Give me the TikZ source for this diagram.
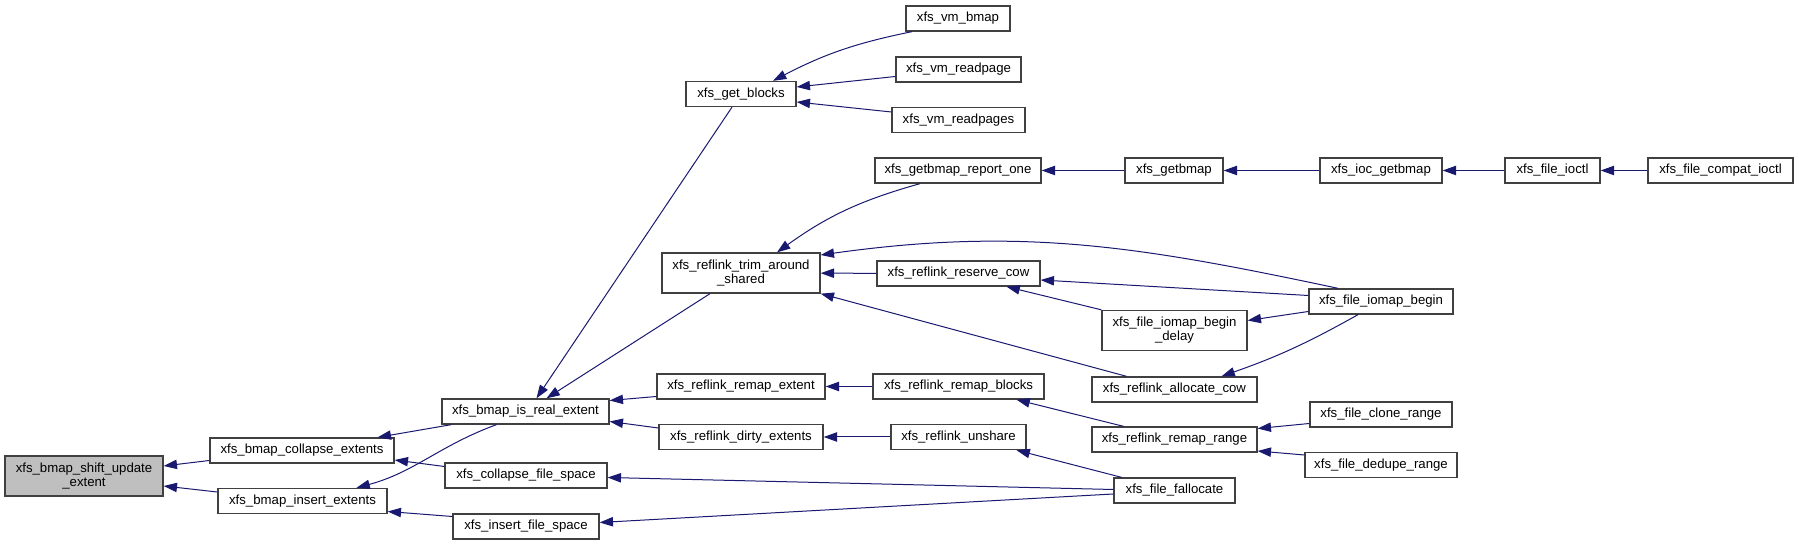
\documentclass[tikz,border=0pt]{standalone}
\usepackage{fontspec}
\setmainfont{Liberation Sans}
\usepackage{tikz}
\usetikzlibrary{
    arrows.meta,
    calc
}

\begin{document}
\begin{tikzpicture}[
    x=0.75pt,
    y=0.75pt,
    every node/.style={
        font=\fontsize{9.9pt}{10.5pt}\selectfont
    },
    fnbox/.style={
        rectangle,
        draw=black!75,
        line width=1pt,
        fill=white,
        inner sep=1pt,
        minimum height=18.75pt,
        align=center
    },
    focus/.style={
        fnbox,
        fill=black!25
    },
    call/.style={
        {Triangle[length=10pt,width=7pt]}-,
        line width=0.75pt,
        draw=navyblue
    }
]
\definecolor{navyblue}{HTML}{191970}

\useasboundingbox (0,0) rectangle (1799,545);

% ===========================================================
% LEFT: the function and its direct callers
% ===========================================================

\node[focus, minimum width=118.5pt, minimum height=30pt] (shift) at (84,69)
    {xfs\_bmap\_shift\_update\\\_extent};

\node[fnbox, minimum width=138pt] (collapse) at (302,94.5)
    {xfs\_bmap\_collapse\_extents};
\node[fnbox, minimum width=126.75pt] (insert) at (302.5,44)
    {xfs\_bmap\_insert\_extents};

\node[fnbox, minimum width=125.25pt] (isreal) at (525.5,133.5)
    {xfs\_bmap\_is\_real\_extent};
\node[fnbox, minimum width=121.5pt] (colfs) at (526,69.5)
    {xfs\_collapse\_file\_space};
\node[fnbox, minimum width=109.5pt] (insfs) at (526,18.5)
    {xfs\_insert\_file\_space};

% ===========================================================
% MIDDLE: callers of xfs_bmap_is_real_extent
% ===========================================================

\node[fnbox, minimum width=82.5pt] (getblocks) at (741,451)
    {xfs\_get\_blocks};
\node[fnbox, minimum width=118.5pt, minimum height=30pt] (trim) at (741,272)
    {xfs\_reflink\_trim\_around\\\_shared};
\node[fnbox, minimum width=126pt] (remapext) at (741,158.5)
    {xfs\_reflink\_remap\_extent};
\node[fnbox, minimum width=123pt] (dirty) at (741,108)
    {xfs\_reflink\_dirty\_extents};

\node[fnbox, minimum width=78pt] (vmbmap) at (958,526.5)
    {xfs\_vm\_bmap};
\node[fnbox, minimum width=93.75pt] (readpage) at (958.5,475.5)
    {xfs\_vm\_readpage};
\node[fnbox, minimum width=99.75pt] (readpages) at (958.5,425)
    {xfs\_vm\_readpages};
\node[fnbox, minimum width=124.5pt] (reportone) at (958,374.5)
    {xfs\_getbmap\_report\_one};
\node[fnbox, minimum width=122.25pt] (reserve) at (958.5,271.5)
    {xfs\_reflink\_reserve\_cow};
\node[fnbox, minimum width=128.25pt] (remapblk) at (958.5,158.5)
    {xfs\_reflink\_remap\_blocks};
\node[fnbox, minimum width=101.25pt] (unshare) at (958.5,108)
    {xfs\_reflink\_unshare};

% ===========================================================
% RIGHT: outer callers
% ===========================================================

\node[fnbox, minimum width=73.5pt] (getbmap) at (1174,374.5)
    {xfs\_getbmap};
\node[fnbox, minimum width=108.75pt, minimum height=30pt] (delay) at (1174.5,214.5)
    {xfs\_file\_iomap\_begin\\\_delay};
\node[fnbox, minimum width=123.75pt] (alloc) at (1174.5,155.5)
    {xfs\_reflink\_allocate\_cow};
\node[fnbox, minimum width=123.75pt] (range) at (1174.5,105.5)
    {xfs\_reflink\_remap\_range};
\node[fnbox, minimum width=90.75pt] (fallocate) at (1174.5,54.5)
    {xfs\_file\_fallocate};

\node[fnbox, minimum width=91.5pt] (iocget) at (1381,374.5)
    {xfs\_ioc\_getbmap};
\node[fnbox, minimum width=108pt] (iomapbegin) at (1381,243.5)
    {xfs\_file\_iomap\_begin};
\node[fnbox, minimum width=106.5pt] (clone) at (1381,130.5)
    {xfs\_file\_clone\_range};
\node[fnbox, minimum width=114pt] (dedupe) at (1381,80)
    {xfs\_file\_dedupe\_range};

\node[fnbox, minimum width=71.25pt] (fileioctl) at (1552.5,374.5)
    {xfs\_file\_ioctl};
\node[fnbox, minimum width=108.75pt] (compat) at (1720.5,374.5)
    {xfs\_file\_compat\_ioctl};

% ===========================================================
% Call edges (arrow tip at the called function)
% ===========================================================

% Into the focus node
\draw[call] ($(shift.east)+(0,10)$) -- ($(collapse.west)+(0,-10)$);
\draw[call] ($(shift.east)+(0,-10)$) -- ($(insert.west)+(0,9)$);

% Second column
\draw[call] ($(collapse.north east)+(-17,0)$) -- ($(isreal.south west)+(10,0)$);
\draw[call] ($(collapse.east)+(0,-9.5)$) -- ($(colfs.west)+(0,9)$);
\draw[call] ($(insert.north)+(54,0)$) to[out=15,in=200] ($(isreal.south)+(-29,0)$);
\draw[call] ($(insert.east)+(0,-10.5)$) -- ($(insfs.west)+(0,10)$);

% Callers of xfs_bmap_is_real_extent
\draw[call] ($(isreal.north)+(11,0)$) -- ($(getblocks.south)+(-9,0)$);
\draw[call] ($(isreal.north)+(21,0)$) -- ($(trim.south)+(-31,0)$);
\draw[call] ($(isreal.east)+(0,11)$) -- ($(remapext.west)+(0,-10)$);
\draw[call] ($(isreal.east)+(0,-10)$) -- ($(dirty.west)+(0,9)$);

% Callers of xfs_get_blocks
\draw[call] ($(getblocks.north)+(32,0)$) to[bend left=8] ($(vmbmap.south)+(-46,0)$);
\draw[call] ($(getblocks.east)+(0,7)$) -- ($(readpage.west)+(0,-7)$);
\draw[call] ($(getblocks.east)+(0,-8)$) -- ($(readpages.west)+(0,8)$);

% Callers of xfs_reflink_trim_around_shared
\draw[call] ($(trim.north)+(36,0)$) to[bend left=10] ($(reportone.south)+(-38,0)$);
\draw[call] ($(trim.east)+(0,18)$) to[out=8,in=168] ($(iomapbegin.north)+(-43,0)$);
\draw[call] (trim) -- (reserve);
\draw[call] (trim.south east) -- ($(alloc.north)+(-48,0)$);

% getbmap chain
\draw[call] (reportone) -- (getbmap);
\draw[call] (getbmap) -- (iocget);
\draw[call] (iocget) -- (fileioctl);
\draw[call] (fileioctl) -- (compat);

% Copy-on-write paths
\draw[call] ($(reserve.east)+(0,-6.5)$) -- ($(iomapbegin.west)+(0,6)$);
\draw[call] ($(reserve.south)+(48,0)$) -- (delay.north west);
\draw[call] ($(delay.east)+(0,10)$) -- ($(iomapbegin.west)+(0,-10)$);
\draw[call] ($(alloc.north)+(47,0)$) to[bend right=5] ($(iomapbegin.south)+(-23,0)$);

% Remap paths
\draw[call] (remapext) -- (remapblk);
\draw[call] ($(remapblk.south)+(58,0)$) -- ($(range.north)+(-51,0)$);
\draw[call] ($(range.east)+(0,11)$) -- ($(clone.west)+(0,-9)$);
\draw[call] ($(range.east)+(0,-11.5)$) -- ($(dedupe.west)+(0,10)$);

% fallocate paths
\draw[call] (dirty) -- (unshare);
\draw[call] ($(unshare.south)+(58,0)$) -- ($(fallocate.north)+(-53,0)$);
\draw[call] ($(colfs.east)+(0,-2)$) -- ($(fallocate.west)+(0,1)$);
\draw[call] ($(insfs.east)+(0,4)$) -- ($(fallocate.west)+(0,-3.5)$);

\end{tikzpicture}
\end{document}
